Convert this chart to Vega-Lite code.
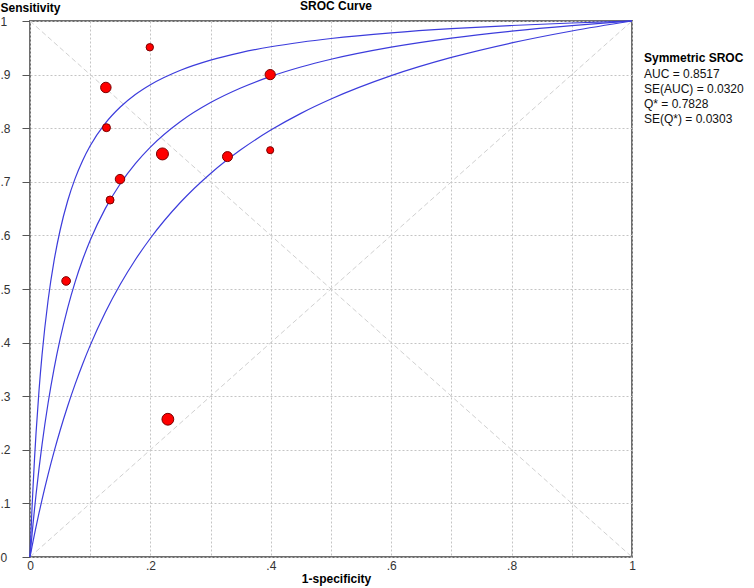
{
  "$schema": "https://vega.github.io/schema/vega-lite/v6.json",
  "width": 602,
  "height": 536,
  "autosize": {"type": "none"},
  "padding": {"left": 30, "top": 21, "right": 122, "bottom": 31},
  "background": "white",
  "config": {
    "font": "Liberation Sans",
    "view": {"stroke": "#6e6e6e", "strokeWidth": 2},
    "axis": {
      "domain": false,
      "grid": true,
      "gridColor": "#c4c4c4",
      "gridDash": [2, 2],
      "gridWidth": 1,
      "labelFont": "Liberation Sans",
      "labelFontSize": 12,
      "labelColor": "#333333",
      "titleFont": "Liberation Sans",
      "titleFontSize": 12,
      "titleFontWeight": "bold",
      "titleColor": "#000000"
    }
  },
  "title": {
    "text": "SROC Curve",
    "fontSize": 12,
    "fontWeight": "bold",
    "font": "Liberation Sans",
    "color": "#000000",
    "anchor": "middle",
    "dx": 5,
    "offset": -12
  },
  "datasets": {
    "curves": [
      {"curve": "upper", "fpr": 0, "tpr": 0},
      {"curve": "upper", "fpr": 0.001, "tpr": 0.0288},
      {"curve": "upper", "fpr": 0.002, "tpr": 0.0561},
      {"curve": "upper", "fpr": 0.0035, "tpr": 0.0944},
      {"curve": "upper", "fpr": 0.005, "tpr": 0.1297},
      {"curve": "upper", "fpr": 0.0075, "tpr": 0.1831},
      {"curve": "upper", "fpr": 0.01, "tpr": 0.2306},
      {"curve": "upper", "fpr": 0.015, "tpr": 0.3112},
      {"curve": "upper", "fpr": 0.02, "tpr": 0.3771},
      {"curve": "upper", "fpr": 0.03, "tpr": 0.4785},
      {"curve": "upper", "fpr": 0.04, "tpr": 0.5528},
      {"curve": "upper", "fpr": 0.05, "tpr": 0.6096},
      {"curve": "upper", "fpr": 0.0625, "tpr": 0.6642},
      {"curve": "upper", "fpr": 0.075, "tpr": 0.7064},
      {"curve": "upper", "fpr": 0.0875, "tpr": 0.7399},
      {"curve": "upper", "fpr": 0.1, "tpr": 0.7673},
      {"curve": "upper", "fpr": 0.125, "tpr": 0.8091},
      {"curve": "upper", "fpr": 0.15, "tpr": 0.8396},
      {"curve": "upper", "fpr": 0.175, "tpr": 0.8629},
      {"curve": "upper", "fpr": 0.2, "tpr": 0.8812},
      {"curve": "upper", "fpr": 0.25, "tpr": 0.9082},
      {"curve": "upper", "fpr": 0.3, "tpr": 0.9271},
      {"curve": "upper", "fpr": 0.35, "tpr": 0.9411},
      {"curve": "upper", "fpr": 0.4, "tpr": 0.9519},
      {"curve": "upper", "fpr": 0.45, "tpr": 0.9604},
      {"curve": "upper", "fpr": 0.5, "tpr": 0.9674},
      {"curve": "upper", "fpr": 0.6, "tpr": 0.978},
      {"curve": "upper", "fpr": 0.7, "tpr": 0.9858},
      {"curve": "upper", "fpr": 0.8, "tpr": 0.9916},
      {"curve": "upper", "fpr": 0.9, "tpr": 0.9963},
      {"curve": "upper", "fpr": 1, "tpr": 1},
      {"curve": "sroc", "fpr": 0, "tpr": 0},
      {"curve": "sroc", "fpr": 0.001, "tpr": 0.0128},
      {"curve": "sroc", "fpr": 0.002, "tpr": 0.0254},
      {"curve": "sroc", "fpr": 0.0035, "tpr": 0.0437},
      {"curve": "sroc", "fpr": 0.005, "tpr": 0.0613},
      {"curve": "sroc", "fpr": 0.0075, "tpr": 0.0894},
      {"curve": "sroc", "fpr": 0.01, "tpr": 0.1161},
      {"curve": "sroc", "fpr": 0.015, "tpr": 0.1653},
      {"curve": "sroc", "fpr": 0.02, "tpr": 0.2097},
      {"curve": "sroc", "fpr": 0.03, "tpr": 0.2868},
      {"curve": "sroc", "fpr": 0.04, "tpr": 0.3514},
      {"curve": "sroc", "fpr": 0.05, "tpr": 0.4063},
      {"curve": "sroc", "fpr": 0.0625, "tpr": 0.4643},
      {"curve": "sroc", "fpr": 0.075, "tpr": 0.5132},
      {"curve": "sroc", "fpr": 0.0875, "tpr": 0.5549},
      {"curve": "sroc", "fpr": 0.1, "tpr": 0.5909},
      {"curve": "sroc", "fpr": 0.125, "tpr": 0.65},
      {"curve": "sroc", "fpr": 0.15, "tpr": 0.6964},
      {"curve": "sroc", "fpr": 0.175, "tpr": 0.7339},
      {"curve": "sroc", "fpr": 0.2, "tpr": 0.7647},
      {"curve": "sroc", "fpr": 0.25, "tpr": 0.8125},
      {"curve": "sroc", "fpr": 0.3, "tpr": 0.8478},
      {"curve": "sroc", "fpr": 0.35, "tpr": 0.875},
      {"curve": "sroc", "fpr": 0.4, "tpr": 0.8966},
      {"curve": "sroc", "fpr": 0.45, "tpr": 0.9141},
      {"curve": "sroc", "fpr": 0.5, "tpr": 0.9286},
      {"curve": "sroc", "fpr": 0.6, "tpr": 0.9512},
      {"curve": "sroc", "fpr": 0.7, "tpr": 0.9681},
      {"curve": "sroc", "fpr": 0.8, "tpr": 0.9811},
      {"curve": "sroc", "fpr": 0.9, "tpr": 0.9915},
      {"curve": "sroc", "fpr": 1, "tpr": 1},
      {"curve": "lower", "fpr": 0, "tpr": 0},
      {"curve": "lower", "fpr": 0.001, "tpr": 0.0058},
      {"curve": "lower", "fpr": 0.002, "tpr": 0.0116},
      {"curve": "lower", "fpr": 0.0035, "tpr": 0.0202},
      {"curve": "lower", "fpr": 0.005, "tpr": 0.0287},
      {"curve": "lower", "fpr": 0.0075, "tpr": 0.0425},
      {"curve": "lower", "fpr": 0.01, "tpr": 0.056},
      {"curve": "lower", "fpr": 0.015, "tpr": 0.0821},
      {"curve": "lower", "fpr": 0.02, "tpr": 0.107},
      {"curve": "lower", "fpr": 0.03, "tpr": 0.1537},
      {"curve": "lower", "fpr": 0.04, "tpr": 0.1965},
      {"curve": "lower", "fpr": 0.05, "tpr": 0.236},
      {"curve": "lower", "fpr": 0.0625, "tpr": 0.2813},
      {"curve": "lower", "fpr": 0.075, "tpr": 0.3225},
      {"curve": "lower", "fpr": 0.0875, "tpr": 0.3602},
      {"curve": "lower", "fpr": 0.1, "tpr": 0.3948},
      {"curve": "lower", "fpr": 0.125, "tpr": 0.4561},
      {"curve": "lower", "fpr": 0.15, "tpr": 0.5088},
      {"curve": "lower", "fpr": 0.175, "tpr": 0.5546},
      {"curve": "lower", "fpr": 0.2, "tpr": 0.5947},
      {"curve": "lower", "fpr": 0.25, "tpr": 0.6618},
      {"curve": "lower", "fpr": 0.3, "tpr": 0.7156},
      {"curve": "lower", "fpr": 0.35, "tpr": 0.7597},
      {"curve": "lower", "fpr": 0.4, "tpr": 0.7965},
      {"curve": "lower", "fpr": 0.45, "tpr": 0.8277},
      {"curve": "lower", "fpr": 0.5, "tpr": 0.8544},
      {"curve": "lower", "fpr": 0.6, "tpr": 0.898},
      {"curve": "lower", "fpr": 0.7, "tpr": 0.932},
      {"curve": "lower", "fpr": 0.8, "tpr": 0.9591},
      {"curve": "lower", "fpr": 0.9, "tpr": 0.9814},
      {"curve": "lower", "fpr": 1, "tpr": 1}
    ],
    "studies": [
      {"fpr": 0.199, "sens": 0.951, "weight": 55},
      {"fpr": 0.126, "sens": 0.876, "weight": 110},
      {"fpr": 0.127, "sens": 0.801, "weight": 64},
      {"fpr": 0.22, "sens": 0.752, "weight": 144},
      {"fpr": 0.1495, "sens": 0.705, "weight": 90},
      {"fpr": 0.133, "sens": 0.666, "weight": 64},
      {"fpr": 0.399, "sens": 0.9, "weight": 105},
      {"fpr": 0.328, "sens": 0.747, "weight": 100},
      {"fpr": 0.399, "sens": 0.759, "weight": 50},
      {"fpr": 0.06, "sens": 0.515, "weight": 75},
      {"fpr": 0.229, "sens": 0.257, "weight": 140}
    ],
    "diagonals": [
      {"line": "chance", "fpr": 0, "tpr": 0},
      {"line": "chance", "fpr": 1, "tpr": 1},
      {"line": "symmetry", "fpr": 0, "tpr": 1},
      {"line": "symmetry", "fpr": 1, "tpr": 0}
    ],
    "stats": [
      {"stat": "AUC = 0.8517"},
      {"stat": "SE(AUC) = 0.0320"},
      {"stat": "Q* = 0.7828"},
      {"stat": "SE(Q*) = 0.0303"}
    ]
  },
  "encoding": {
    "x": {
      "field": "fpr",
      "type": "quantitative",
      "scale": {"domain": [0, 1], "nice": false, "zero": false},
      "axis": {
        "title": "1-specificity",
        "titleX": 306,
        "titleY": 28,
        "titleAlign": "center",
        "titleBaseline": "bottom",
        "values": [0, 0.1, 0.2, 0.3, 0.4, 0.5, 0.6, 0.7, 0.8, 0.9, 1],
        "labelExpr": "round(datum.value*10) % 2 == 0 ? (datum.value == 0 ? '0' : (datum.value >= 1 ? '1' : replace(format(datum.value, '.1f'), '0.', '.'))) : ''",
        "tickSize": 0,
        "labelPadding": 3,
        "labelBaseline": "top",
        "labelFlush": false
      }
    },
    "y": {
      "field": "tpr",
      "type": "quantitative",
      "scale": {"domain": [0, 1], "nice": false, "zero": false},
      "axis": {
        "title": "Sensitivity",
        "titleAngle": 0,
        "titleAlign": "left",
        "titleBaseline": "alphabetic",
        "titleX": -30,
        "titleY": -10,
        "values": [0, 0.1, 0.2, 0.3, 0.4, 0.5, 0.6, 0.7, 0.8, 0.9, 1],
        "labelExpr": "datum.value == 0 ? '0' : (datum.value >= 1 ? '1' : replace(format(datum.value, '.1f'), '0.', '.'))",
        "labelAlign": "left",
        "labelBaseline": "middle",
        "tickSize": 8,
        "tickColor": "#555555",
        "labelPadding": 22,
        "labelFlush": false
      }
    }
  },
  "layer": [
    {
      "data": {"name": "diagonals"},
      "mark": {"type": "line", "color": "#d0d0d0", "strokeWidth": 1, "strokeDash": [5, 3]},
      "encoding": {"detail": {"field": "line", "type": "nominal"}}
    },
    {
      "data": {"name": "curves"},
      "mark": {"type": "line", "color": "#3c3cdc", "strokeWidth": 1.2, "interpolate": "monotone"},
      "encoding": {"detail": {"field": "curve", "type": "nominal"}}
    },
    {
      "data": {"name": "studies"},
      "mark": {"type": "circle", "fill": "#ff0000", "stroke": "#7a0000", "strokeWidth": 1, "opacity": 1, "fillOpacity": 1},
      "encoding": {
        "y": {"field": "sens", "type": "quantitative"},
        "size": {"field": "weight", "type": "quantitative", "scale": {"domain": [0, 150], "range": [0, 150]}, "legend": null}
      }
    },
    {
      "data": {"name": "stats"},
      "mark": {"type": "point", "opacity": 0},
      "encoding": {
        "x": {"datum": 0.5},
        "y": {"datum": 0.5},
        "shape": {
          "field": "stat",
          "type": "nominal",
          "scale": {"domain": ["AUC = 0.8517", "SE(AUC) = 0.0320", "Q* = 0.7828", "SE(Q*) = 0.0303"]},
          "legend": {
            "title": "Symmetric SROC",
            "orient": "none",
            "legendX": 614,
            "legendY": 32,
            "padding": 0,
            "titleFont": "Liberation Sans",
            "titleFontSize": 12,
            "titleFontWeight": "bold",
            "titleColor": "#000000",
            "titlePadding": 3,
            "labelFont": "Liberation Sans",
            "labelFontSize": 12,
            "labelColor": "#111111",
            "labelOffset": -12,
            "symbolSize": 0,
            "symbolOpacity": 0,
            "symbolStrokeWidth": 0,
            "rowPadding": 3,
            "labelLimit": 200
          }
        }
      }
    }
  ]
}
